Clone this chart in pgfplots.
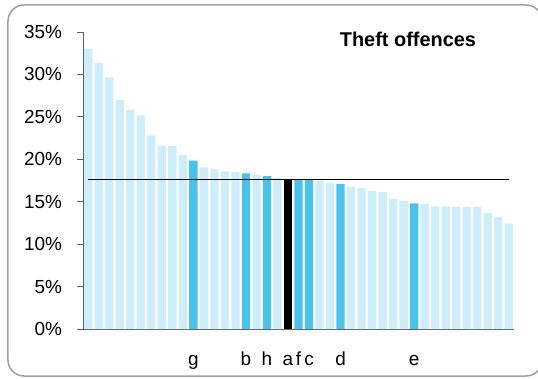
\documentclass[border=0pt]{standalone}
\usepackage{pgfplots}
\pgfplotsset{compat=1.18}
\usepackage{fontspec}
\setmainfont{Liberation Sans}
\definecolor{lightb}{HTML}{CCEDF9}
\definecolor{darkb}{HTML}{4BC2EB}
\definecolor{framec}{HTML}{A0A0A0}
\definecolor{axc}{HTML}{606060}

\pgfplotstableread{
x y
0 33.0
1 31.35
2 29.66
3 26.99
4 25.81
5 25.18
6 22.82
7 21.57
8 21.57
9 20.5
11 19.05
12 18.86
13 18.58
14 18.5
16 18.15
18 17.8
22 17.48
23 17.17
25 16.77
26 16.6
27 16.26
28 16.14
29 15.32
30 15.08
32 14.73
33 14.46
34 14.46
35 14.38
36 14.38
37 14.38
38 13.67
39 13.2
40 12.41
}\lightdata

\pgfplotstableread{
x y
10 19.84
15 18.34
17 18.03
20 17.68
21 17.64
24 17.09
31 14.8
}\darkdata

\pgfplotstableread{
x y
19 17.72
}\blackdata

\begin{document}
\begin{tikzpicture}
\useasboundingbox (-83bp,-50bp) rectangle (455bp,329bp);
\begin{scope}
\clip (-83bp,-50bp) rectangle (455bp,329bp);
\draw[framec, line width=1.5bp, rounded corners=16bp] (-75bp,-47bp) rectangle (459bp,324bp);
\end{scope}
\begin{axis}[
  at={(0,0)}, anchor=south west,
  scale only axis, width=431bp, height=297bp,
  xmin=-0.5, xmax=40.5, ymin=0, ymax=35,
  axis x line*=bottom, axis y line*=left,
  axis line style={axc, line width=0.8bp},
  ytick={0,5,...,35},
  yticklabel={\pgfmathprintnumber{\tick}\%},
  /pgf/number format/assume math mode=true,
  tick align=outside,
  major tick length=5.5bp,
  tick style={axc, line width=0.8bp},
  xtick={10,15,17,19,20,21,24,31},
  xticklabels={g,b,h,a,f,c,d,e},
  x tick style={draw=none},
  tick label style={font=\fontsize{19}{22}\selectfont},
  yticklabel style={anchor=east, xshift=-12bp},
  xticklabel style={anchor=base, yshift=-31bp},
  ybar, bar width=8.3bp,
  clip=false,
]
\addplot[ybar, bar shift=0pt, fill=lightb, draw=none] table {\lightdata};
\addplot[ybar, bar shift=0pt, fill=darkb, draw=none] table {\darkdata};
\addplot[ybar, bar shift=0pt, fill=black, draw=none] table {\blackdata};
\addplot[sharp plot, black, line width=1.6bp, mark=none] coordinates {(0,17.64) (40,17.64)};
\node[font=\bfseries\fontsize{20}{24}\selectfont, anchor=base] at (rel axis cs:0.754,0.9505) {Theft offences};
\end{axis}
\end{tikzpicture}
\end{document}
